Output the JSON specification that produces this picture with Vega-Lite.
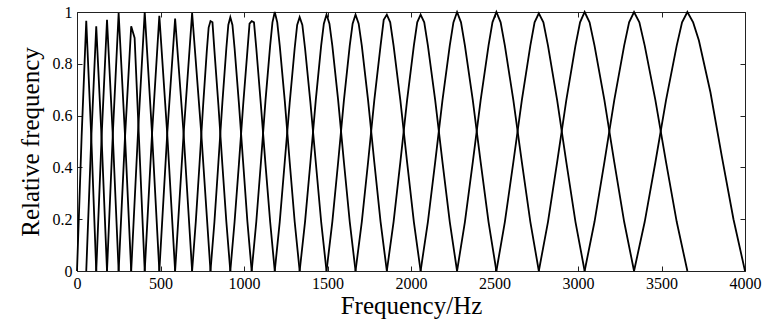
{
"$schema": "https://vega.github.io/schema/vega-lite/v6.json",
"width": 668, "height": 259,
"autosize": {"type": "none"},
"padding": {"left": 77, "top": 12, "right": 18, "bottom": 54},
"background": "white",
"config": {
 "view": {"stroke": "#222", "strokeWidth": 1},
 "font": "Liberation Serif",
 "axis": {"grid": false, "domain": false, "tickColor": "#222", "tickWidth": 1, "labelFlush": false, "labelFont": "Liberation Serif", "titleFont": "Liberation Serif", "labelColor": "black", "titleColor": "black", "labelFontSize": 16, "titleFontSize": 25, "titleFontWeight": "normal"}
},
"data": {"values": [
{"k":1,"f":0,"v":0},{"k":1,"f":27.7,"v":0.52},{"k":1,"f":55.4,"v":0.966},{"k":1,"f":85.3,"v":0.52},{"k":1,"f":115.2,"v":0},
{"k":2,"f":55.4,"v":0},{"k":2,"f":85.3,"v":0.51},{"k":2,"f":115.2,"v":0.945},{"k":2,"f":147.5,"v":0.51},{"k":2,"f":179.7,"v":0},
{"k":3,"f":115.2,"v":0},{"k":3,"f":147.5,"v":0.52},{"k":3,"f":179.7,"v":0.97},{"k":3,"f":214.5,"v":0.52},{"k":3,"f":249.3,"v":0},
{"k":4,"f":179.7,"v":0},{"k":4,"f":214.5,"v":0.53},{"k":4,"f":249.3,"v":0.996},{"k":4,"f":286.9,"v":0.53},{"k":4,"f":324.5,"v":0},
{"k":5,"f":249.3,"v":0},{"k":5,"f":286.9,"v":0.51},{"k":5,"f":324.5,"v":0.945},{"k":5,"f":345,"v":0.9},{"k":5,"f":405.5,"v":0},
{"k":6,"f":324.5,"v":0},{"k":6,"f":365.0,"v":0.53},{"k":6,"f":405.5,"v":1.0},{"k":6,"f":449.3,"v":0.53},{"k":6,"f":493.0,"v":0},
{"k":7,"f":405.5,"v":0},{"k":7,"f":449.3,"v":0.53},{"k":7,"f":493.0,"v":0.985},{"k":7,"f":540.3,"v":0.53},{"k":7,"f":587.5,"v":0},
{"k":8,"f":493.0,"v":0},{"k":8,"f":540.3,"v":0.53},{"k":8,"f":587.5,"v":0.975},{"k":8,"f":638.4,"v":0.53},{"k":8,"f":689.3,"v":0},
{"k":9,"f":587.5,"v":0},{"k":9,"f":638.4,"v":0.53},{"k":9,"f":689.3,"v":0.996},{"k":9,"f":744.3,"v":0.53},{"k":9,"f":799.3,"v":0},
{"k":10,"f":689.3,"v":0},{"k":10,"f":711.3,"v":0.19},{"k":10,"f":733.3,"v":0.41},{"k":10,"f":755.3,"v":0.64},{"k":10,"f":777.3,"v":0.85},{"k":10,"f":788.3,"v":0.94},{"k":10,"f":799.3,"v":0.965},{"k":10,"f":811.2,"v":0.96},{"k":10,"f":823.0,"v":0.85},{"k":10,"f":846.8,"v":0.64},{"k":10,"f":870.5,"v":0.41},{"k":10,"f":894.3,"v":0.19},{"k":10,"f":918.0,"v":0},
{"k":11,"f":799.3,"v":0},{"k":11,"f":823.0,"v":0.19},{"k":11,"f":846.8,"v":0.42},{"k":11,"f":870.5,"v":0.65},{"k":11,"f":894.3,"v":0.86},{"k":11,"f":906.1,"v":0.95},{"k":11,"f":918.0,"v":0.98},{"k":11,"f":930.8,"v":0.95},{"k":11,"f":943.6,"v":0.86},{"k":11,"f":969.2,"v":0.65},{"k":11,"f":994.8,"v":0.42},{"k":11,"f":1020.4,"v":0.19},{"k":11,"f":1046.0,"v":0},
{"k":12,"f":918.0,"v":0},{"k":12,"f":943.6,"v":0.19},{"k":12,"f":969.2,"v":0.41},{"k":12,"f":994.8,"v":0.64},{"k":12,"f":1020.4,"v":0.85},{"k":12,"f":1033.2,"v":0.955},{"k":12,"f":1046.0,"v":0.965},{"k":12,"f":1059.8,"v":0.96},{"k":12,"f":1073.6,"v":0.86},{"k":12,"f":1101.3,"v":0.64},{"k":12,"f":1128.9,"v":0.41},{"k":12,"f":1156.6,"v":0.19},{"k":12,"f":1184.2,"v":0},
{"k":13,"f":1046.0,"v":0},{"k":13,"f":1073.6,"v":0.19},{"k":13,"f":1101.3,"v":0.42},{"k":13,"f":1128.9,"v":0.66},{"k":13,"f":1156.6,"v":0.87},{"k":13,"f":1170.4,"v":0.96},{"k":13,"f":1184.2,"v":1.0},{"k":13,"f":1199.1,"v":0.96},{"k":13,"f":1214.0,"v":0.87},{"k":13,"f":1243.8,"v":0.66},{"k":13,"f":1273.7,"v":0.42},{"k":13,"f":1303.5,"v":0.19},{"k":13,"f":1333.3,"v":0},
{"k":14,"f":1184.2,"v":0},{"k":14,"f":1214.0,"v":0.19},{"k":14,"f":1243.8,"v":0.42},{"k":14,"f":1273.7,"v":0.65},{"k":14,"f":1303.5,"v":0.86},{"k":14,"f":1318.4,"v":0.95},{"k":14,"f":1333.3,"v":0.98},{"k":14,"f":1349.4,"v":0.95},{"k":14,"f":1365.5,"v":0.86},{"k":14,"f":1397.7,"v":0.65},{"k":14,"f":1429.8,"v":0.42},{"k":14,"f":1462.0,"v":0.19},{"k":14,"f":1494.2,"v":0},
{"k":15,"f":1333.3,"v":0},{"k":15,"f":1365.5,"v":0.19},{"k":15,"f":1397.7,"v":0.42},{"k":15,"f":1429.8,"v":0.66},{"k":15,"f":1462.0,"v":0.87},{"k":15,"f":1478.1,"v":0.955},{"k":15,"f":1494.2,"v":0.99},{"k":15,"f":1511.6,"v":0.955},{"k":15,"f":1528.9,"v":0.87},{"k":15,"f":1563.7,"v":0.66},{"k":15,"f":1598.4,"v":0.42},{"k":15,"f":1633.2,"v":0.19},{"k":15,"f":1667.9,"v":0},
{"k":16,"f":1494.2,"v":0},{"k":16,"f":1528.9,"v":0.19},{"k":16,"f":1563.7,"v":0.42},{"k":16,"f":1598.4,"v":0.66},{"k":16,"f":1633.2,"v":0.87},{"k":16,"f":1650.5,"v":0.955},{"k":16,"f":1667.9,"v":0.99},{"k":16,"f":1686.6,"v":0.955},{"k":16,"f":1705.4,"v":0.87},{"k":16,"f":1742.9,"v":0.66},{"k":16,"f":1780.3,"v":0.42},{"k":16,"f":1817.8,"v":0.19},{"k":16,"f":1855.3,"v":0},
{"k":17,"f":1667.9,"v":0},{"k":17,"f":1705.4,"v":0.19},{"k":17,"f":1742.9,"v":0.42},{"k":17,"f":1780.3,"v":0.66},{"k":17,"f":1817.8,"v":0.87},{"k":17,"f":1836.6,"v":0.97},{"k":17,"f":1855.3,"v":0.99},{"k":17,"f":1875.5,"v":0.96},{"k":17,"f":1895.7,"v":0.87},{"k":17,"f":1936.2,"v":0.66},{"k":17,"f":1976.6,"v":0.42},{"k":17,"f":2017.1,"v":0.19},{"k":17,"f":2057.5,"v":0},
{"k":18,"f":1855.3,"v":0},{"k":18,"f":1895.7,"v":0.19},{"k":18,"f":1936.2,"v":0.42},{"k":18,"f":1976.6,"v":0.66},{"k":18,"f":2017.1,"v":0.87},{"k":18,"f":2037.3,"v":0.96},{"k":18,"f":2057.5,"v":0.99},{"k":18,"f":2079.3,"v":0.96},{"k":18,"f":2101.2,"v":0.87},{"k":18,"f":2144.8,"v":0.66},{"k":18,"f":2188.5,"v":0.42},{"k":18,"f":2232.1,"v":0.19},{"k":18,"f":2275.8,"v":0},
{"k":19,"f":2057.5,"v":0},{"k":19,"f":2101.2,"v":0.19},{"k":19,"f":2144.8,"v":0.42},{"k":19,"f":2188.5,"v":0.66},{"k":19,"f":2232.1,"v":0.87},{"k":19,"f":2254.0,"v":0.96},{"k":19,"f":2275.8,"v":1.0},{"k":19,"f":2299.4,"v":0.96},{"k":19,"f":2322.9,"v":0.87},{"k":19,"f":2370.0,"v":0.66},{"k":19,"f":2417.1,"v":0.42},{"k":19,"f":2464.2,"v":0.19},{"k":19,"f":2511.3,"v":0},
{"k":20,"f":2275.8,"v":0},{"k":20,"f":2322.9,"v":0.19},{"k":20,"f":2370.0,"v":0.42},{"k":20,"f":2417.1,"v":0.66},{"k":20,"f":2464.2,"v":0.87},{"k":20,"f":2487.8,"v":0.96},{"k":20,"f":2511.3,"v":1.0},{"k":20,"f":2536.7,"v":0.96},{"k":20,"f":2562.1,"v":0.87},{"k":20,"f":2612.9,"v":0.66},{"k":20,"f":2663.8,"v":0.42},{"k":20,"f":2714.6,"v":0.19},{"k":20,"f":2765.4,"v":0},
{"k":21,"f":2511.3,"v":0},{"k":21,"f":2562.1,"v":0.19},{"k":21,"f":2612.9,"v":0.42},{"k":21,"f":2663.8,"v":0.66},{"k":21,"f":2714.6,"v":0.87},{"k":21,"f":2740.0,"v":0.96},{"k":21,"f":2765.4,"v":0.995},{"k":21,"f":2792.8,"v":0.96},{"k":21,"f":2820.3,"v":0.87},{"k":21,"f":2875.1,"v":0.66},{"k":21,"f":2930.0,"v":0.42},{"k":21,"f":2984.8,"v":0.19},{"k":21,"f":3039.7,"v":0},
{"k":22,"f":2765.4,"v":0},{"k":22,"f":2820.3,"v":0.19},{"k":22,"f":2875.1,"v":0.42},{"k":22,"f":2930.0,"v":0.66},{"k":22,"f":2984.8,"v":0.87},{"k":22,"f":3012.3,"v":0.96},{"k":22,"f":3039.7,"v":1.0},{"k":22,"f":3069.3,"v":0.96},{"k":22,"f":3098.9,"v":0.87},{"k":22,"f":3158.1,"v":0.66},{"k":22,"f":3217.2,"v":0.42},{"k":22,"f":3276.4,"v":0.19},{"k":22,"f":3335.6,"v":0},
{"k":23,"f":3039.7,"v":0},{"k":23,"f":3098.9,"v":0.19},{"k":23,"f":3158.1,"v":0.42},{"k":23,"f":3217.2,"v":0.66},{"k":23,"f":3276.4,"v":0.87},{"k":23,"f":3306.0,"v":0.96},{"k":23,"f":3335.6,"v":1.0},{"k":23,"f":3367.5,"v":0.96},{"k":23,"f":3399.5,"v":0.87},{"k":23,"f":3463.4,"v":0.66},{"k":23,"f":3527.2,"v":0.42},{"k":23,"f":3591.1,"v":0.19},{"k":23,"f":3655.0,"v":0},
{"k":24,"f":3335.6,"v":0},{"k":24,"f":3399.5,"v":0.19},{"k":24,"f":3463.4,"v":0.42},{"k":24,"f":3527.2,"v":0.66},{"k":24,"f":3591.1,"v":0.87},{"k":24,"f":3623.1,"v":0.96},{"k":24,"f":3655.0,"v":1.0},{"k":24,"f":3689.5,"v":0.96},{"k":24,"f":3724.0,"v":0.89},{"k":24,"f":3793.0,"v":0.69},{"k":24,"f":3862.0,"v":0.44},{"k":24,"f":3931.0,"v":0.2},{"k":24,"f":4000,"v":0}
]},
"layer": [
 {"mark": {"type": "line", "color": "black", "strokeWidth": 1.8},
  "encoding": {
   "x": {"field": "f", "type": "quantitative", "scale": {"domain": [0, 4000], "nice": false, "zero": false},
     "axis": {"orient": "bottom", "title": "Frequency/Hz", "values": [0,500,1000,1500,2000,2500,3000,3500,4000], "format": "d", "tickSize": -5, "labelPadding": 9, "titlePadding": 2}},
   "y": {"field": "v", "type": "quantitative", "scale": {"domain": [0, 1], "nice": false},
     "axis": {"orient": "left", "title": "Relative frequency", "values": [0,0.2,0.4,0.6,0.8,1], "format": "~g", "tickSize": -5, "labelPadding": 10, "titlePadding": 9}},
   "detail": {"field": "k", "type": "nominal"}
  }},
 {"mark": {"type": "line", "opacity": 0},
  "encoding": {
   "x": {"field": "f", "type": "quantitative", "axis": {"orient": "top", "title": null, "labels": false, "values": [0,500,1000,1500,2000,2500,3000,3500,4000], "tickSize": -5}},
   "y": {"field": "v", "type": "quantitative", "axis": {"orient": "right", "title": null, "labels": false, "values": [0,0.2,0.4,0.6,0.8,1], "tickSize": -5}},
   "detail": {"field": "k", "type": "nominal"}
  }}
],
"resolve": {"axis": {"x": "independent", "y": "independent"}}
}
